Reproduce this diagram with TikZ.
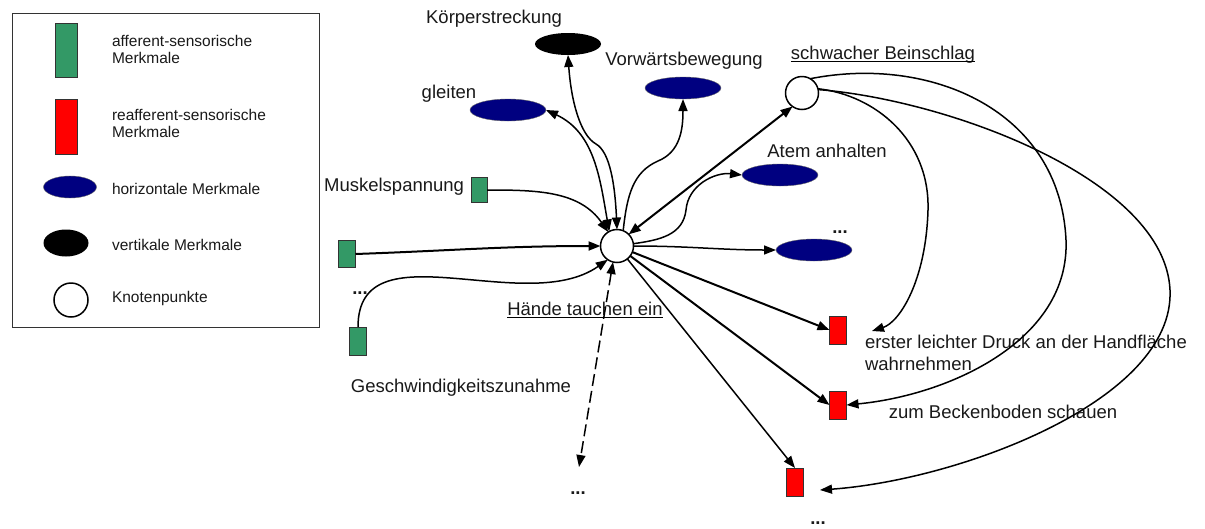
\documentclass[tikz,border=0pt]{standalone}
\usepackage{fontspec}
\setmainfont{Liberation Sans}
\usetikzlibrary{shapes.geometric,arrows.meta}
\definecolor{affgreen}{RGB}{51,153,102}
\definecolor{navyblue}{RGB}{0,0,128}
\begin{document}
\begin{tikzpicture}[x=1pt,y=1pt,
  >={Triangle[length=12pt,width=9pt]},
  every node/.style={inner sep=0pt,outer sep=0pt},
  txt/.style={font=\fontsize{18.5}{22}\selectfont,text=black!90},
  legtxt/.style={font=\fontsize{15.5}{16.5}\selectfont,text=black!90,anchor=base west,align=left},
  aff/.style={draw=black!80,line width=0.8,fill=affgreen,minimum width=17,minimum height=27},
  reaff/.style={draw=black!80,line width=0.8,fill=red,minimum width=17,minimum height=28},
  horiz/.style={ellipse,draw=black!60,line width=0.4,fill=navyblue,minimum width=76,minimum height=22},
  vert/.style={ellipse,fill=black,minimum width=66,minimum height=22},
  knot/.style={circle,draw,line width=1.5,fill=white,minimum size=33},
  link/.style={line width=1.5},
  boldlink/.style={line width=2},
  ulink/.style={line width=1.3}
]
\useasboundingbox (0,0) rectangle (1205,-528);

% legend (base anchor of two-line texts sits on the last line)
\node[draw=black!80,line width=1,minimum width=307,minimum height=314,anchor=north west] (legend) at (12,-13) {};
\node[aff,minimum width=22,minimum height=54] (lgaff) at (66,-50) {};
\node[legtxt] (lgafftxt) at (112,-63) {afferent-sensorische\\Merkmale};
\node[reaff,minimum width=22,minimum height=55] (lgreaff) at (66,-127) {};
\node[legtxt] (lgreafftxt) at (112,-137) {reafferent-sensorische\\Merkmale};
\node[horiz,minimum width=53,minimum height=22] (lghoriz) at (70,-187) {};
\node[legtxt] (lghoriztxt) at (112,-194) {horizontale Merkmale};
\node[vert,minimum width=45,minimum height=27] (lgvert) at (66,-243) {};
\node[legtxt] (lgverttxt) at (112,-250) {vertikale Merkmale};
\node[knot,minimum size=34] (lgknot) at (71,-300) {};
\node[legtxt] (lgknottxt) at (112,-302) {Knotenpunkte};

% nodes
\node[knot] (hand) at (617,-246) {};
\node[knot] (bein) at (802,-93) {};
\node[vert] (koerper) at (568,-44) {};
\node[horiz] (gleiten) at (508,-110) {};
\node[horiz] (vorw) at (683,-88) {};
\node[horiz] (atem) at (780,-175) {};
\node[horiz] (more) at (814,-250) {};
\node[aff,minimum width=16,minimum height=25] (muskel) at (479,-190) {};
\node[aff] (aff2) at (347,-254) {};
\node[aff,minimum height=28] (geschw) at (358,-341) {};
\node[reaff] (red1) at (838,-330) {};
\node[reaff] (red2) at (838,-405) {};
\node[reaff] (red3) at (795,-482) {};

% labels
\node[txt,anchor=base] (lkoerper) at (494,-23) {Körperstreckung};
\node[txt,anchor=base] (lgleiten) at (449,-98) {gleiten};
\node[txt,anchor=base] (lvorw) at (684,-65) {Vorwärtsbewegung};
\node[txt,anchor=base east] (lmuskel) at (464,-191) {Muskelspannung};
\node[txt,anchor=base] (lgeschw) at (461,-392) {Geschwindigkeitszunahme};
\node[txt,anchor=base] (lhand) at (585,-315) {Hände tauchen ein};
\node[txt,anchor=base] (lbein) at (883,-59) {schwacher Beinschlag};
\node[txt,anchor=base] (latem) at (827,-157) {Atem anhalten};
\node[txt,anchor=base west,align=left] (lred1) at (865,-370) {erster leichter Druck an der Handfläche\\wahrnehmen};
\node[txt,anchor=base] (lred2) at (1003,-418) {zum Beckenboden schauen};
\node[txt,anchor=base] (dmore) at (840,-233) {\textbf{...}};
\node[txt,anchor=base] (daff) at (360,-294) {\textbf{...}};
\node[txt,anchor=base] (ddash) at (578,-494) {\textbf{...}};
\node[txt,anchor=base] (dred) at (818,-524) {\textbf{...}};

\draw[ulink] ([yshift=-2.5]lhand.base west) -- ([yshift=-2.5]lhand.base east);
\draw[ulink] ([yshift=-2.5]lbein.base west) -- ([yshift=-2.5]lbein.base east);

% free ends
\coordinate (dashend) at (579,-467);
\coordinate (r1in) at (872,-331);
\coordinate (r3in) at (820,-490);

% incoming afferent features
\draw[link,->] (muskel.east) to[out=0,in=125] (hand.122);
\draw[boldlink,->] (aff2.east) to[out=2,in=180] (hand.west);
\draw[link,->] (geschw.north) to[out=90,in=215] (hand.236);
\draw[link,<->,dash pattern=on 12pt off 5pt] (hand.256) -- (dashend);

% horizontal / vertical features
\draw[link,<->] (hand.118) to[out=100,in=-25] (gleiten.east);
\draw[link,<->] (hand.north) .. controls (615,-185) and (610,-152) .. (596,-144)
  .. controls (580,-135) and (571,-100) .. (koerper.south);
\draw[link,->] (hand.68) .. controls (627,-195) and (633,-172) .. (658,-161)
  .. controls (680,-152) and (683,-130) .. (vorw.south);
\draw[link,->] (hand.8) .. controls (660,-240) and (683,-235) .. (686,-210)
  .. controls (688,-185) and (715,-172) .. (atem.west);
\draw[link,->] (hand.east) to[out=0,in=180] (more.west);

% node to node
\draw[boldlink,<->] (hand.45) -- (bein.235);

% reafferent features
\draw[boldlink,->] (hand) -- (red1.west);
\draw[boldlink,->] (hand) -- (red2.west);
\draw[link,->] (hand) -- (red3.north);

\draw[link,->] (bein.15) .. controls (875,-95) and (930,-140) .. (928,-210)
  .. controls (926,-280) and (900,-322) .. (r1in);
\draw[link,->] (bein.60) .. controls (930,-55) and (1060,-110) .. (1066,-240)
  .. controls (1070,-340) and (950,-395) .. (red2.east);
\draw[link,->] (bein.12) .. controls (950,-100) and (1165,-180) .. (1170,-290)
  .. controls (1175,-400) and (960,-480) .. (r3in);
\end{tikzpicture}
\end{document}
